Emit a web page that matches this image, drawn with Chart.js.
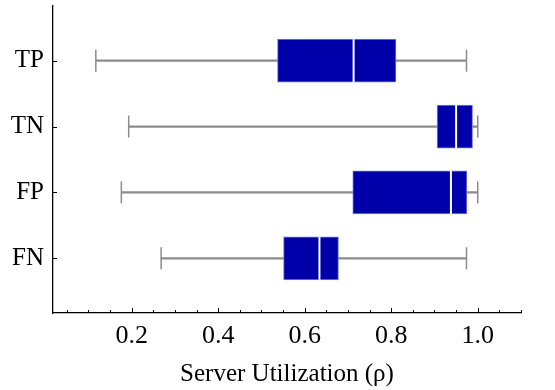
<!DOCTYPE html>
<html>
<head>
<meta charset="utf-8">
<script src="https://cdn.jsdelivr.net/npm/chart.js@4.4.0/dist/chart.umd.min.js"></script>
<style>
  html, body { margin: 0; padding: 0; background: #fff; }
  #wrap { width: 555px; height: 390px; }
</style>
</head>
<body>
<div id="wrap"><canvas id="boxChart"></canvas></div>
<script>
// box plot data
const categories = ['TP', 'TN', 'FP', 'FN'];
const mins    = [0.117, 0.193, 0.176, 0.268];
const q1s     = [0.537, 0.906, 0.711, 0.551];
const medians = [0.713, 0.950, 0.938, 0.634];
const q3s     = [0.811, 0.988, 0.975, 0.678];
const maxs    = [0.974, 1.000, 1.000, 0.974];
const xTicks  = [0.2, 0.4, 0.6, 0.8, 1.0];

const serif = "'Liberation Serif', 'DejaVu Serif', serif";

// tick marks drawn inside the plot, like the original
const insideTicks = {
    id: 'insideTicks',
    afterDraw(chart) {
        const ctx = chart.ctx;
        const xs = chart.scales.x, ys = chart.scales.y;
        const area = chart.chartArea;
        ctx.save();
        ctx.strokeStyle = '#000';
        ctx.lineWidth = 1;
        ctx.beginPath();
        for (let k = 1; k * 0.05 <= xs.max + 1e-9; k++) {
            const v = k * 0.05;
            if (v < xs.min) continue;
            const px = Math.round(xs.getPixelForValue(v)) + 0.5;
            const len = (k % 4 === 0) ? 5 : 3;
            ctx.moveTo(px, area.bottom);
            ctx.lineTo(px, area.bottom - len);
        }
        categories.forEach((c, i) => {
            const py = Math.round(ys.getPixelForValue(i)) + 0.5;
            ctx.moveTo(area.left, py);
            ctx.lineTo(area.left + 4, py);
        });
        ctx.stroke();
        ctx.restore();
    }
};

const ctx = document.getElementById('boxChart').getContext('2d');
new Chart(ctx, {
    type: 'bar',
    data: {
        datasets: [
            {
                type: 'scatter',
                label: 'median',
                data: medians.map((m, i) => ({ x: m, y: i })),
                pointStyle: 'line',
                rotation: 90,
                radius: 21.5,
                borderColor: '#ffffff',
                borderWidth: 2,
                order: 0
            },
            {
                label: 'box',
                indexAxis: 'y',
                grouped: false,
                data: categories.map((c, i) => ({ x: [q1s[i], q3s[i]], y: i })),
                backgroundColor: '#0000aa',
                borderColor: '#7a7aee',
                borderWidth: 1,
                borderSkipped: false,
                barThickness: 43,
                order: 1
            },
            {
                type: 'scatter',
                label: 'caps',
                data: categories.flatMap((c, i) => [{ x: mins[i], y: i }, { x: maxs[i], y: i }]),
                pointStyle: 'line',
                rotation: 90,
                radius: 11,
                borderColor: '#8c8c8c',
                borderWidth: 1.5,
                order: 2
            },
            {
                label: 'whisker',
                indexAxis: 'y',
                grouped: false,
                data: categories.map((c, i) => ({ x: [mins[i], maxs[i]], y: i })),
                backgroundColor: '#8c8c8c',
                borderWidth: 0,
                barThickness: 1.6,
                order: 3
            }
        ]
    },
    options: {
        responsive: true,
        maintainAspectRatio: false,
        animation: false,
        layout: { autoPadding: false, padding: { top: 6, right: 34, left: 0, bottom: 0 } },
        plugins: {
            legend: { display: false },
            tooltip: { enabled: false }
        },
        scales: {
            x: {
                type: 'linear',
                offset: false,
                min: 0.018,
                max: 1.1,
                afterBuildTicks: (s) => { s.ticks = xTicks.map(v => ({ value: v })); },
                afterFit: (s) => { s.height = 77; s.paddingLeft = 0; s.paddingRight = 0; },
                grid: { display: false, drawTicks: false },
                border: { display: true, color: '#000', width: 1.3 },
                ticks: {
                    color: '#000',
                    padding: 8,
                    font: { family: serif, size: 26 },
                    callback: (v) => Number(v).toFixed(1)
                },
                title: {
                    display: true,
                    text: 'Server Utilization (ρ)',
                    color: '#000',
                    font: { family: serif, size: 25 },
                    padding: { top: 0, bottom: 1 }
                }
            },
            y: {
                type: 'linear',
                offset: false,
                reverse: true,
                min: -0.83,
                max: 3.83,
                afterBuildTicks: (s) => { s.ticks = categories.map((c, i) => ({ value: i })); },
                afterFit: (s) => { s.width = 53; s.paddingTop = 0; s.paddingBottom = 0; },
                grid: { display: false, drawTicks: false },
                border: { display: true, color: '#000', width: 1.3 },
                ticks: {
                    color: '#000',
                    padding: 9,
                    font: { family: serif, size: 25 },
                    callback: (v) => categories[v]
                }
            }
        }
    },
    plugins: [insideTicks]
});
</script>
</body>
</html>
